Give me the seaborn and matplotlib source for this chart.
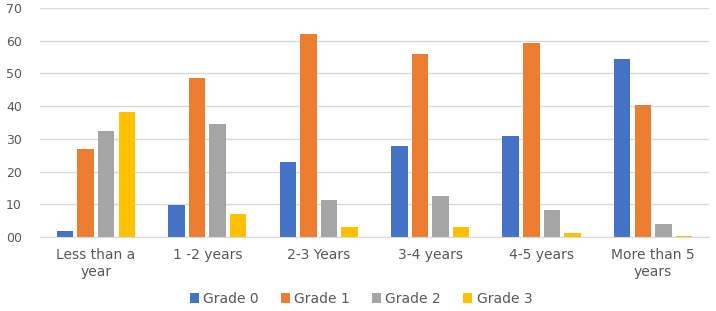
import numpy as np
import pandas as pd
import matplotlib
matplotlib.use("Agg")
import matplotlib.pyplot as plt
import seaborn as sns

# --- dati ---
categories = ["Less than a\nyear", "1 -2 years", "2-3 Years", "3-4 years", "4-5 years", "More than 5\nyears"]
grade0 = [1.8, 9.7, 23.0, 27.7, 31.0, 54.5]
grade1 = [27.0, 48.6, 62.0, 56.1, 59.2, 40.4]
grade2 = [32.5, 34.4, 11.2, 12.6, 8.1, 4.1]
grade3 = [38.3, 7.0, 3.2, 3.0, 1.3, 0.4]
grades = ["Grade 0", "Grade 1", "Grade 2", "Grade 3"]
y_ticks = [0, 10, 20, 30, 40, 50, 60, 70]
y_tick_labels = ["00", "10", "20", "30", "40", "50", "60", "70"]

rows = []
for g, vals in zip(grades, [grade0, grade1, grade2, grade3]):
    for c, v in zip(categories, vals):
        rows.append({"cat": c, "grade": g, "val": v})
df = pd.DataFrame(rows)

sns.set_style("white")
plt.rcParams['font.family'] = ['DejaVu Sans']
text_col = '#595959'
palette = ['#4472C4', '#ED7D31', '#A5A5A5', '#FFC000']

fig = plt.figure(figsize=(7.16, 3.11), dpi=100)
ax = fig.add_axes([0.056, 0.238, 0.934, 0.736])

sns.barplot(data=df, x="cat", y="val", hue="grade", palette=palette,
            saturation=1, width=0.74, gap=0.2, linewidth=0, ax=ax, legend=True)

ax.set_ylim(0, 70)
ax.set_yticks(y_ticks, labels=y_tick_labels)
ax.yaxis.grid(True, color='#D9D9D9', linewidth=1)
ax.set_axisbelow(True)
for s in ['top', 'right', 'left']:
    ax.spines[s].set_visible(False)
ax.spines['bottom'].set_color('#D9D9D9')
ax.tick_params(axis='both', length=0, colors=text_col)
ax.tick_params(axis='x', labelsize=10, pad=8)
ax.tick_params(axis='y', labelsize=9, pad=13)
for lbl in ax.get_xticklabels():
    lbl.set_linespacing(1.3)
ax.set_xlabel('')
ax.set_ylabel('')

ax.legend(loc='center', bbox_to_anchor=(0.48, -0.27), ncol=4, frameon=False,
          fontsize=10, handlelength=0.65, handleheight=0.65, handletextpad=0.3,
          columnspacing=1.6, labelcolor=text_col)

fig.savefig("out.png", dpi=100)
